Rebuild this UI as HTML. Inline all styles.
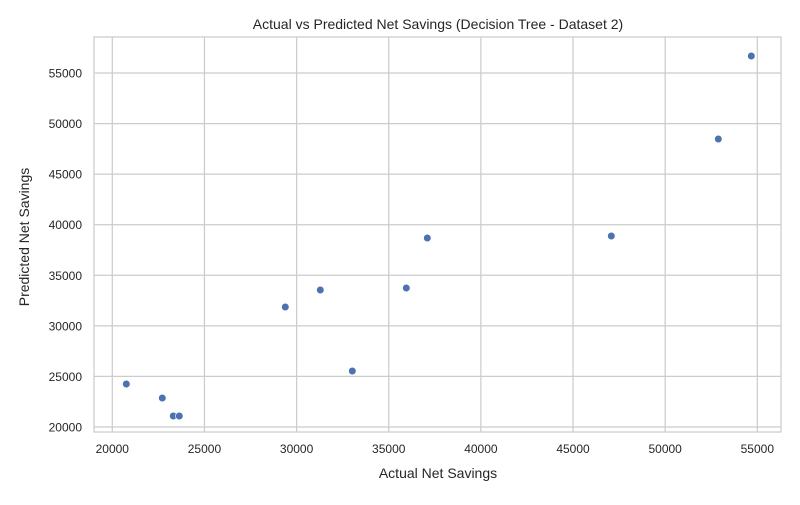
<!DOCTYPE html>
<html><head><meta charset="utf-8"><style>
body{margin:0;background:#fff;}
svg text{font-family:"Liberation Sans",sans-serif;fill:#262626;}
</style></head><body>
<svg id="chart" width="800" height="500">
<rect x="0" y="0" width="800" height="500" fill="#fff"/>
<g id="grid"></g>
<rect x="94" y="37" width="687" height="395" fill="none" stroke="#cccccc" stroke-width="1.25"/>
<g id="pts"></g>
<g id="ticks"></g>
<text x="438" y="29" font-size="14" text-anchor="middle">Actual vs Predicted Net Savings (Decision Tree - Dataset 2)</text>
<text x="438" y="478" font-size="14" text-anchor="middle">Actual Net Savings</text>
<text x="0" y="0" font-size="14" text-anchor="middle" transform="translate(29,237) rotate(-90)">Predicted Net Savings</text>
</svg>
<script>
const actual=[20760,22713,23310,23636,29387,31287,33023,35953,37093,47077,52884,54675];
const predicted=[24252,22867,21088,21088,31865,33546,25537,33743,38687,38885,48475,56682];
const xTicks=[20000,25000,30000,35000,40000,45000,50000,55000];
const yTicks=[20000,25000,30000,35000,40000,45000,50000,55000];
const NS="http://www.w3.org/2000/svg";
function sx(v){return 112.3+(v-20000)*0.018429;}
function sy(v){return 427+(20000-v)*0.010114;}
function mk(tag,attrs,parent){const e=document.createElementNS(NS,tag);for(const k in attrs)e.setAttribute(k,attrs[k]);parent.appendChild(e);return e;}
const grid=document.getElementById('grid'),ticks=document.getElementById('ticks'),pts=document.getElementById('pts');
xTicks.forEach(t=>{
 const l=mk('line',{x1:sx(t),x2:sx(t),y1:37,y2:432,stroke:'#cccccc','stroke-width':1.25},grid);
 
 
 const tx=mk('text',{x:sx(t),y:453,'font-size':12,'text-anchor':'middle'},ticks);
 tx.textContent=t;
 
 
});
yTicks.forEach(t=>{
 const l=mk('line',{x1:94,x2:781,y1:sy(t),y2:sy(t),stroke:'#cccccc','stroke-width':1.25},grid);
 
 
 const tx=mk('text',{x:82,y:sy(t)+4.5,'font-size':12,'text-anchor':'end'},ticks);
 tx.textContent=t;
 
 
});
actual.forEach((a,i)=>{
 const c=mk('circle',{cx:sx(a),cy:sy(predicted[i]),r:3.8,fill:'#4c72b0',stroke:'#fff','stroke-width':0.6},pts);
 
 
});
</script>
</body></html>
